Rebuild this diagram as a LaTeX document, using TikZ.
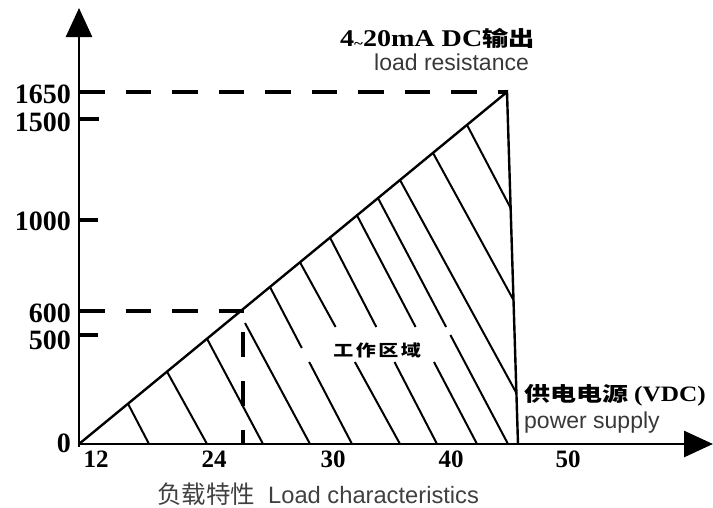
\documentclass[tikz,border=0pt]{standalone}
\usepackage{fontspec}
\setmainfont{Liberation Serif}
\newfontfamily\cjk{Noto Sans CJK SC}
\newfontfamily\labelsans{Liberation Sans}
\usetikzlibrary{arrows.meta,calc}

\tikzset{
  axis/.style={line width=2.7pt,-{Triangle[length=29pt,width=26pt]}},
  edge/.style={line width=2.4pt},
  hatch/.style={line width=2pt},
  guide/.style={line width=3.5pt,dash pattern=on 25.5pt off 21pt},
  tick/.style={line width=3.2pt},
  ynum/.style={anchor=east,inner sep=0pt,font=\bfseries\fontsize{28}{28}\selectfont},
  xnum/.style={inner sep=0pt,font=\bfseries\fontsize{25}{25}\selectfont},
  note/.style={inner sep=0pt,text=black!78,font=\labelsans\fontsize{23}{23}\selectfont},
}

\begin{document}
\begin{tikzpicture}[x=1pt,y=-1pt]
\useasboundingbox (0,0) rectangle (713,507);

\coordinate (O) at (79,444);
\coordinate (top) at (507,92);
\coordinate (foot) at (518,444);

% working area
\draw[edge,line join=miter] (O) -- (top) -- (foot);

% hatching
\draw[hatch] (128,403.7) -- (149,444);
\draw[hatch] (167,371.6) -- (207,444);
\draw[hatch] (207,338.7) -- (263,444);
\draw[hatch] (245,323) -- (310,444);
\draw[hatch] (270,287) -- (301.8,348);
\draw[hatch] (309.2,362) -- (352,444);
\draw[hatch] (300,262.3) -- (335.6,327);
\draw[hatch] (354.9,362) -- (400,444);
\draw[hatch] (330,237.6) -- (376.3,327);
\draw[hatch] (394.5,362) -- (437,444);
\draw[hatch] (357,215.4) -- (415.6,327);
\draw[hatch] (434,362) -- (477,444);
\draw[hatch] (378,198.1) -- (446.1,327);
\draw[hatch] (450.4,335) -- (508,444);
\draw[hatch] (400,180) -- (516.4,393);
\draw[hatch] (433,152.9) -- (513.5,300);
\draw[hatch] (467,124.9) -- (510.6,208);

% guides
\draw[guide] (79,92) -- (top);
\draw[guide] (79,311) -- (244,311);
\draw[guide,dash pattern=on 25pt off 24pt] (243,332) -- (243,444);

% axes
\draw[axis] (79,447) -- (79,8);
\draw[axis] (77.65,444) -- (713,444);

% ticks
\draw[tick] (79,119) -- (99,119);
\draw[tick] (79,220) -- (98,220);
\draw[tick] (79,335) -- (98,335);

\node[ynum] (y1650) at (71,94) {1650};
\node[ynum] (y1500) at (71,122) {1500};
\node[ynum] (y1000) at (71,221) {1000};
\node[ynum] (y600) at (71,313) {600};
\node[ynum] (y500) at (71,340) {500};
\node[ynum] (y0) at (71,443) {0};

\node[xnum] (x12) at (96,459) {12};
\node[xnum] (x24) at (214,459) {24};
\node[xnum] (x30) at (333,459) {30};
\node[xnum] (x40) at (451,459) {40};
\node[xnum] (x50) at (568,459) {50};

\node[anchor=west,inner sep=0pt] (title) at (340,38)
  {\bfseries\fontsize{24}{24}\selectfont\scalebox{1.17}[1]{4\raisebox{-2pt}{\scalebox{0.6}{\textasciitilde}}20mA DC}\cjk\fontsize{21}{21}\selectfont\scalebox{1.25}[1]{输出}};
\node[note,anchor=base west] (load) at (374,70) {load resistance};

\node[inner sep=0pt] (area) at (377,350)
  {\cjk\bfseries\fontsize{16}{16}\selectfont\scalebox{1.25}[1]{工\hspace{2pt}作\hspace{2pt}区\hspace{2pt}域}};

\node[anchor=west,inner sep=0pt] (supply) at (524,395)
  {\cjk\bfseries\fontsize{20}{20}\selectfont\scalebox{1.3}[1]{供电电源}\hspace{6pt}{\rmfamily\fontsize{22}{22}\selectfont\scalebox{1.15}[1]{(VDC)}}};
\node[note,anchor=base west] (power) at (524,428) {power supply};

\node[anchor=west,inner sep=0pt,text=black!75] (caption) at (157,494)
  {\cjk\fontsize{24.5}{24.5}\selectfont 负载特性\hspace{13pt}\labelsans\fontsize{23.7}{23.7}\selectfont Load characteristics};
\end{tikzpicture}
\end{document}
